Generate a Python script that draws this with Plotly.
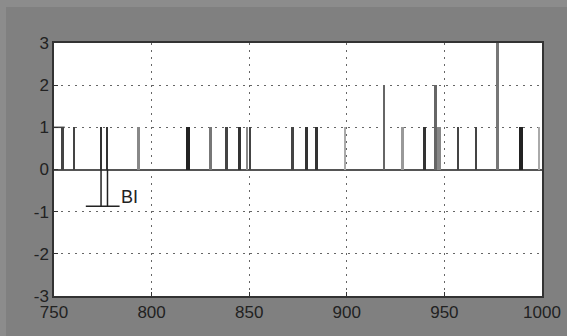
import plotly.graph_objects as go

# ---- data ----
bar_x = [754.5, 760.4, 774.1, 777.4, 793.4, 818.8, 830.4, 838.5, 844.9, 849.0,
         850.4, 872.3, 879.5, 884.6, 899.3, 919.1, 928.6, 940.0, 945.6, 947.2,
         957.0, 966.2, 977.3, 989.2, 998.5]
bar_y = [1, 1, 1, 1, 1, 1, 1, 1, 1, 1,
         1, 1, 1, 1, 1, 2, 1, 1, 2, 1,
         1, 1, 3, 1, 1]
bar_shade = ["#444444", "#444444", "#333333", "#333333", "#888888", "#222222", "#777777", "#444444", "#333333", "#888888",
             "#444444", "#444444", "#333333", "#333333", "#aaaaaa", "#666666", "#999999", "#333333", "#666666", "#888888",
             "#444444", "#444444", "#777777", "#222222", "#aaaaaa"]
bar_w = [1.0, 1.0, 0.9, 0.9, 0.9, 2.0, 1.0, 1.0, 1.4, 0.9,
         1.0, 1.0, 1.6, 1.6, 1.0, 1.0, 0.9, 1.6, 1.0, 1.6,
         1.0, 1.0, 0.9, 1.8, 1.0]

# "BI" marker symbol
bi_x = [774.1, 774.1, None, 777.4, 777.4, None, 766.3, 783.6]
bi_y = [0, -0.87, None, 0, -0.87, None, -0.87, -0.87]
bi_label = "BI"
bi_label_pos = (784.3, -0.87)

# short segment at left
seg_x = [750, 755.5]
seg_y = [1, 1]

x_ticks = [750, 800, 850, 900, 950, 1000]
x_ticktext = ["750", "800", "850", "900", "950", "1000"]
y_ticks = [-3, -2, -1, 0, 1, 2, 3]
y_ticktext = ["-3", "-2", "-1", "0", "1", "2", "3"]

FONT = "Liberation Sans Narrow, Liberation Sans, Arial, sans-serif"

fig = go.Figure()
fig.add_trace(go.Bar(x=bar_x, y=bar_y, width=bar_w,
                     marker=dict(color=bar_shade, line=dict(width=0)),
                     showlegend=False, hoverinfo="skip"))
fig.add_trace(go.Scatter(x=bi_x, y=bi_y, mode="lines",
                         line=dict(color="#222222", width=1.5),
                         showlegend=False, hoverinfo="skip"))
fig.add_trace(go.Scatter(x=seg_x, y=seg_y, mode="lines",
                         line=dict(color="#444444", width=1.5),
                         showlegend=False, hoverinfo="skip"))
fig.add_annotation(x=bi_label_pos[0], y=bi_label_pos[1], text=bi_label,
                   showarrow=False, xanchor="left", yanchor="bottom",
                   xref="x", yref="y",
                   font=dict(family=FONT, size=18, color="#222222"),
                   yshift=-3, xshift=-2)

axis_common = dict(
    showgrid=True, gridcolor="#666666", griddash="2px,5px", gridwidth=1,
    showline=True, linecolor="#333333", linewidth=1.5, mirror=True,
    ticks="inside", ticklen=4, tickcolor="#333333",
    tickfont=dict(family=FONT, size=17, color="#222222"),
    automargin=False,
)

fig.update_xaxes(range=[750, 1000], tickvals=x_ticks, ticktext=x_ticktext,
                 zeroline=False, **axis_common)
fig.update_yaxes(range=[-3, 3], tickvals=y_ticks, ticktext=y_ticktext, zeroline=True,
                 zerolinecolor="#555555", zerolinewidth=2, **axis_common)

fig.update_layout(
    width=561, height=329,
    margin=dict(l=48, r=25, t=36, b=40),
    paper_bgcolor="#808080",
    plot_bgcolor="#ffffff",
    barmode="overlay",
    bargap=0,
)

fig.write_html("out.html")

# page styling: no default body margin, thin lighter frame at top/left like the reference
with open("out.html", "r", encoding="utf-8") as f:
    html = f.read()
style = ("<style>html,body{margin:0;padding:0;overflow:hidden;background:#8c8c8c;}"
         "body{padding:7px 0 0 6px;}</style>")
html = html.replace("<head>", "<head>" + style, 1)
with open("out.html", "w", encoding="utf-8") as f:
    f.write(html)
